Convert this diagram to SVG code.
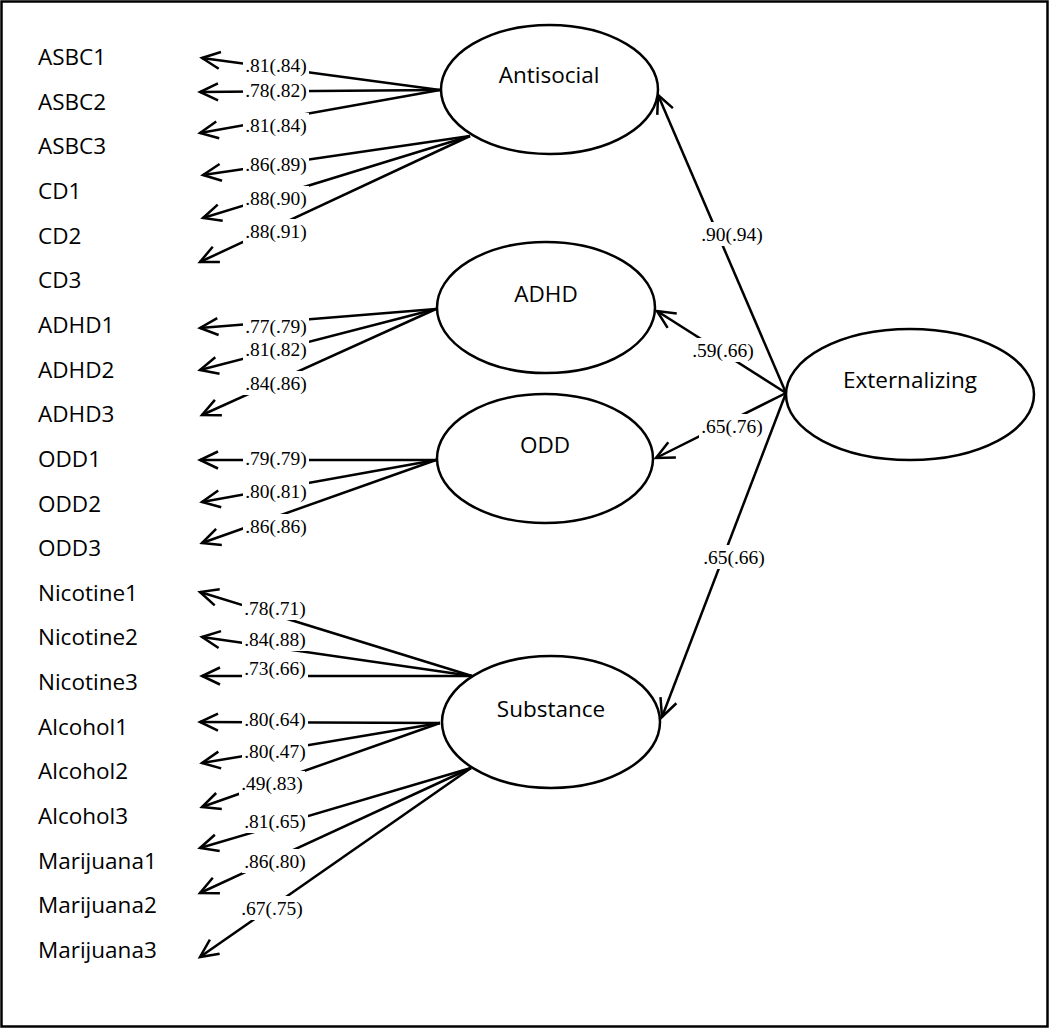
<svg xmlns="http://www.w3.org/2000/svg" width="1050" height="1029" viewBox="0 0 1050 1029">
<style>
.ind{font-family:"Open Sans","Liberation Sans",sans-serif;font-size:22.5px;fill:#000}
.lat{font-family:"Open Sans","Liberation Sans",sans-serif;font-size:22.5px;fill:#000;text-anchor:middle}
.ell{fill:#fff;stroke:#000;stroke-width:2.5}
.cn{stroke:#000;stroke-width:2.5;fill:none;marker-end:url(#arr)}
.lb{font-family:"Liberation Serif","Times New Roman",serif;font-size:19.5px;fill:#000;text-anchor:middle}
.bg{fill:#fff;stroke:none}
</style>
<defs>
<marker id="arr" markerUnits="userSpaceOnUse" markerWidth="40" markerHeight="40" refX="0" refY="0" orient="auto" overflow="visible">
<path d="M-18,-8.5 L0,0 L-18,8.5" fill="none" stroke="#000" stroke-width="2.5"/>
</marker>
</defs>
<rect x="1.5" y="1.5" width="1046" height="1025" fill="#fff" stroke="#000" stroke-width="2.5"/>

<g id="connectors">
<line class="cn" x1="440" y1="90" x2="202" y2="58"/>
<line class="cn" x1="440" y1="90" x2="200" y2="92"/>
<line class="cn" x1="440" y1="90" x2="200" y2="133"/>
<line class="cn" x1="470" y1="136" x2="203" y2="175"/>
<line class="cn" x1="470" y1="136" x2="203" y2="218"/>
<line class="cn" x1="470" y1="136" x2="200" y2="262"/>
<line class="cn" x1="436" y1="309" x2="200" y2="328"/>
<line class="cn" x1="436" y1="309" x2="200" y2="370"/>
<line class="cn" x1="436" y1="309" x2="202" y2="415"/>
<line class="cn" x1="436" y1="460" x2="200" y2="460"/>
<line class="cn" x1="436" y1="460" x2="202" y2="502"/>
<line class="cn" x1="436" y1="460" x2="202" y2="543"/>
<line class="cn" x1="472" y1="676" x2="200" y2="592"/>
<line class="cn" x1="472" y1="676" x2="202" y2="637"/>
<line class="cn" x1="472" y1="676" x2="202" y2="676"/>
<line class="cn" x1="440" y1="723" x2="200" y2="722"/>
<line class="cn" x1="440" y1="723" x2="202" y2="763"/>
<line class="cn" x1="440" y1="723" x2="202" y2="807"/>
<line class="cn" x1="471" y1="768" x2="200" y2="848"/>
<line class="cn" x1="471" y1="768" x2="200" y2="893"/>
<line class="cn" x1="471" y1="768" x2="200" y2="957"/>
<line class="cn" x1="786" y1="393" x2="658" y2="95"/>
<line class="cn" x1="786" y1="393" x2="657" y2="311"/>
<line class="cn" x1="786" y1="393" x2="656" y2="458"/>
<line class="cn" x1="786" y1="393" x2="662" y2="717"/>

<g id="labels">
<rect class="bg" x="243" y="53" width="66" height="24"/><text class="lb" x="276" y="72">.81(.84)</text>
<rect class="bg" x="243" y="78" width="66" height="24"/><text class="lb" x="276" y="97">.78(.82)</text>
<rect class="bg" x="243" y="113" width="66" height="24"/><text class="lb" x="276" y="132">.81(.84)</text>
<rect class="bg" x="243" y="152" width="66" height="24"/><text class="lb" x="276" y="171">.86(.89)</text>
<rect class="bg" x="243" y="186" width="66" height="24"/><text class="lb" x="276" y="205">.88(.90)</text>
<rect class="bg" x="243" y="219" width="66" height="24"/><text class="lb" x="276" y="238">.88(.91)</text>
<rect class="bg" x="243" y="314" width="66" height="24"/><text class="lb" x="276" y="333">.77(.79)</text>
<rect class="bg" x="243" y="337" width="66" height="24"/><text class="lb" x="276" y="356">.81(.82)</text>
<rect class="bg" x="243" y="371" width="66" height="24"/><text class="lb" x="276" y="390">.84(.86)</text>
<rect class="bg" x="243" y="446" width="66" height="24"/><text class="lb" x="276" y="465">.79(.79)</text>
<rect class="bg" x="243" y="479" width="66" height="24"/><text class="lb" x="276" y="498">.80(.81)</text>
<rect class="bg" x="243" y="514" width="66" height="24"/><text class="lb" x="276" y="533">.86(.86)</text>
<rect class="bg" x="242" y="596" width="66" height="24"/><text class="lb" x="275" y="615">.78(.71)</text>
<rect class="bg" x="242" y="627" width="66" height="24"/><text class="lb" x="275" y="646">.84(.88)</text>
<rect class="bg" x="242" y="656" width="66" height="24"/><text class="lb" x="275" y="675">.73(.66)</text>
<rect class="bg" x="242" y="707" width="66" height="24"/><text class="lb" x="275" y="726">.80(.64)</text>
<rect class="bg" x="242" y="739" width="66" height="24"/><text class="lb" x="275" y="758">.80(.47)</text>
<rect class="bg" x="239" y="771" width="66" height="24"/><text class="lb" x="272" y="790">.49(.83)</text>
<rect class="bg" x="242" y="809" width="66" height="24"/><text class="lb" x="275" y="828">.81(.65)</text>
<rect class="bg" x="242" y="849" width="66" height="24"/><text class="lb" x="275" y="868">.86(.80)</text>
<rect class="bg" x="239" y="896" width="66" height="24"/><text class="lb" x="272" y="915">.67(.75)</text>
<rect class="bg" x="699" y="222" width="66" height="24"/><text class="lb" x="732" y="241">.90(.94)</text>
<rect class="bg" x="690" y="338" width="66" height="24"/><text class="lb" x="723" y="357">.59(.66)</text>
<rect class="bg" x="699" y="414" width="66" height="24"/><text class="lb" x="732" y="433">.65(.76)</text>
<rect class="bg" x="701" y="545" width="66" height="24"/><text class="lb" x="734" y="564">.65(.66)</text>
</g>
</g>

<g id="node-antisocial"><ellipse class="ell" cx="549.5" cy="89.5" rx="108.5" ry="64.5"/><text class="lat" x="549" y="83">Antisocial</text></g>
<g id="node-adhd"><ellipse class="ell" cx="546" cy="307.5" rx="109" ry="65.5"/><text class="lat" x="546" y="302">ADHD</text></g>
<g id="node-odd"><ellipse class="ell" cx="545" cy="458.5" rx="108" ry="64.5"/><text class="lat" x="545" y="453">ODD</text></g>
<g id="node-substance"><ellipse class="ell" cx="551" cy="722" rx="109" ry="66"/><text class="lat" x="551" y="717">Substance</text></g>
<g id="node-externalizing"><ellipse class="ell" cx="910" cy="394.5" rx="124" ry="65.5"/><text class="lat" x="910" y="388">Externalizing</text></g>

<g id="node-asbc1"><text class="ind" x="38" y="65">ASBC1</text></g>
<g id="node-asbc2"><text class="ind" x="38" y="109.65">ASBC2</text></g>
<g id="node-asbc3"><text class="ind" x="38" y="154.3">ASBC3</text></g>
<g id="node-cd1"><text class="ind" x="38" y="198.95">CD1</text></g>
<g id="node-cd2"><text class="ind" x="38" y="243.6">CD2</text></g>
<g id="node-cd3"><text class="ind" x="38" y="288.25">CD3</text></g>
<g id="node-adhd1"><text class="ind" x="38" y="332.9">ADHD1</text></g>
<g id="node-adhd2"><text class="ind" x="38" y="377.55">ADHD2</text></g>
<g id="node-adhd3"><text class="ind" x="38" y="422.2">ADHD3</text></g>
<g id="node-odd1"><text class="ind" x="38" y="466.85">ODD1</text></g>
<g id="node-odd2"><text class="ind" x="38" y="511.5">ODD2</text></g>
<g id="node-odd3"><text class="ind" x="38" y="556.15">ODD3</text></g>
<g id="node-nicotine1"><text class="ind" x="38" y="600.8">Nicotine1</text></g>
<g id="node-nicotine2"><text class="ind" x="38" y="645.45">Nicotine2</text></g>
<g id="node-nicotine3"><text class="ind" x="38" y="690.1">Nicotine3</text></g>
<g id="node-alcohol1"><text class="ind" x="38" y="734.75">Alcohol1</text></g>
<g id="node-alcohol2"><text class="ind" x="38" y="779.4">Alcohol2</text></g>
<g id="node-alcohol3"><text class="ind" x="38" y="824.05">Alcohol3</text></g>
<g id="node-marijuana1"><text class="ind" x="38" y="868.7">Marijuana1</text></g>
<g id="node-marijuana2"><text class="ind" x="38" y="913.35">Marijuana2</text></g>
<g id="node-marijuana3"><text class="ind" x="38" y="958">Marijuana3</text></g>
</svg>
